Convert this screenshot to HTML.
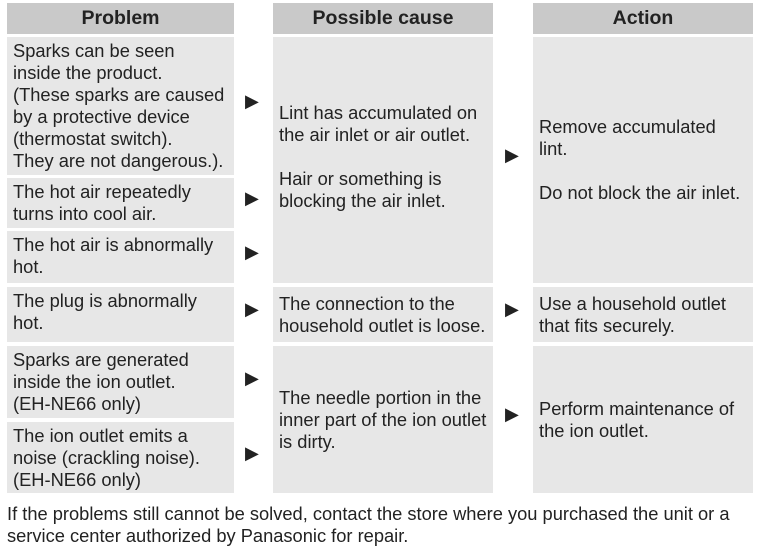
<!DOCTYPE html><html><head><style>
body{margin:0;width:759px;height:544px;background:#fff;font-family:"Liberation Sans",Arial,sans-serif;color:#222;position:relative;overflow:hidden}
.b{position:absolute;background:#e7e7e7;font-size:18.3px;line-height:22px;box-sizing:border-box;padding:3px 0 0 6px;white-space:nowrap}
.h{position:absolute;background:#c9c9c9;top:3px;height:31px;font-weight:bold;font-size:19.5px;line-height:31px;text-align:center}
.v{display:flex;align-items:center;padding-top:0}
.a{position:absolute;font-size:18px;line-height:18px}
.f{position:absolute;left:7px;top:503px;font-size:18.3px;line-height:22px;white-space:nowrap}
</style></head><body>
<div class="h" style="left:7px;width:227px">Problem</div>
<div class="h" style="left:273px;width:220px">Possible cause</div>
<div class="h" style="left:533px;width:220px">Action</div>

<div class="b" style="left:7px;top:37px;width:227px;height:138px">Sparks can be seen<br>inside the product.<br>(These sparks are caused<br>by a protective device<br>(thermostat switch).<br>They are not dangerous.).</div>
<div class="b" style="left:7px;top:178px;width:227px;height:50px">The hot air repeatedly<br>turns into cool air.</div>
<div class="b" style="left:7px;top:231px;width:227px;height:52px">The hot air is abnormally<br>hot.</div>
<div class="b" style="left:7px;top:287px;width:227px;height:55px">The plug is abnormally<br>hot.</div>
<div class="b" style="left:7px;top:346px;width:227px;height:72px">Sparks are generated<br>inside the ion outlet.<br>(EH-NE66 only)</div>
<div class="b" style="left:7px;top:422px;width:227px;height:71px">The ion outlet emits a<br>noise (crackling noise).<br>(EH-NE66 only)</div>

<div class="b v" style="left:273px;top:37px;width:220px;height:246px;padding-bottom:6px"><div>Lint has accumulated on<br>the air inlet or air outlet.<br><br>Hair or something is<br>blocking the air inlet.</div></div>
<div class="b v" style="left:273px;top:287px;width:220px;height:55px"><div>The connection to the<br>household outlet is loose.</div></div>
<div class="b v" style="left:273px;top:346px;width:220px;height:147px"><div>The needle portion in the<br>inner part of the ion outlet<br>is dirty.</div></div>

<div class="b v" style="left:533px;top:37px;width:220px;height:246px;padding-top:0"><div>Remove accumulated<br>lint.<br><br>Do not block the air inlet.</div></div>
<div class="b v" style="left:533px;top:287px;width:220px;height:55px"><div>Use a household outlet<br>that fits securely.</div></div>
<div class="b v" style="left:533px;top:346px;width:220px;height:147px"><div>Perform maintenance of<br>the ion outlet.</div></div>

<div class="a" style="left:245px;top:92px">▶</div>
<div class="a" style="left:245px;top:189px">▶</div>
<div class="a" style="left:245px;top:243px">▶</div>
<div class="a" style="left:245px;top:300px">▶</div>
<div class="a" style="left:245px;top:369px">▶</div>
<div class="a" style="left:245px;top:444px">▶</div>
<div class="a" style="left:505px;top:146px">▶</div>
<div class="a" style="left:505px;top:300px">▶</div>
<div class="a" style="left:505px;top:405px">▶</div>

<div class="f">If the problems still cannot be solved, contact the store where you purchased the unit or a<br>service center authorized by Panasonic for repair.</div>
</body></html>
